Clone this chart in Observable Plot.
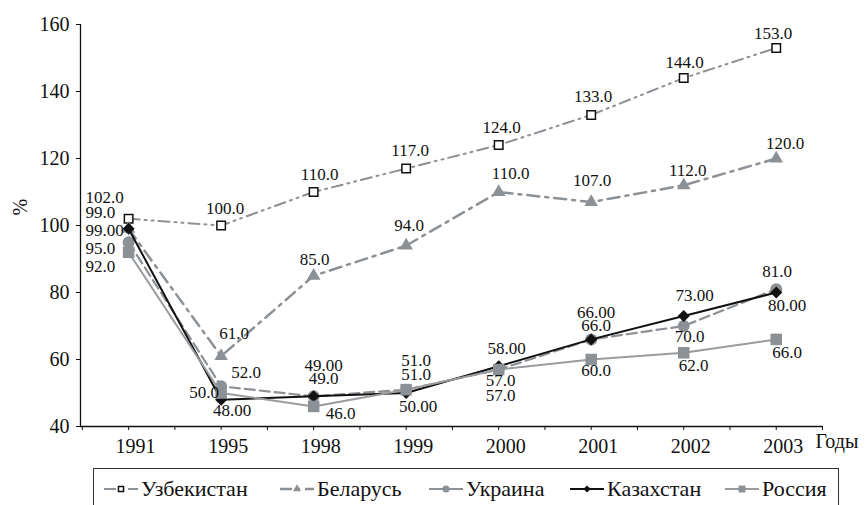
<!DOCTYPE html>
<html>
<head>
<meta charset="utf-8">
<script src="https://cdn.jsdelivr.net/npm/d3@7"></script>
<script src="https://cdn.jsdelivr.net/npm/@observablehq/plot@0.6"></script>
<style>
  html, body { margin: 0; padding: 0; background: #fff; overflow: hidden; }
  #wrap { width: 866px; height: 505px; position: relative; font-family: 'Liberation Serif'; }
  #legend { position: absolute; left: 93px; top: 468px; width: 746px; height: 60px; border: 1px solid #333; box-sizing: border-box; }
  .item { position: absolute; top: 7px; display: flex; align-items: center; font-size: 22px; color: #111; white-space: nowrap; font-family: 'Liberation Serif'; }
  .item svg { margin-right: 2px; }
  #chart svg text { font-family: 'Liberation Serif' !important; }
</style>
</head>
<body>
<div id="wrap"><div id="chart"></div><div id="legend"></div></div>
<script>
// ---- data ----
const years = ["1991", "1995", "1998", "1999", "2000", "2001", "2002", "2003"];
const uzbekistan = [102, 100, 110, 117, 124, 133, 144, 153];
const belarus    = [99, 61, 85, 94, 110, 107, 112, 120];
const ukraine    = [95, 52, 49, 51, 57, 66, 70, 81];
const kazakhstan = [99, 48, 49, 50, 58, 66, 73, 80];
const russia     = [92, 50, 46, 51, 57, 60, 62, 66];
const seriesNames = ["Узбекистан", "Беларусь", "Украина", "Казахстан", "Россия"];
const yTicks = [40, 60, 80, 100, 120, 140, 160];

// ---- label nudges (pixels) ----
const nudges = {
  "Узбекистан": [[-43,-21],[4,-17],[6,-17],[4,-18],[3,-18],[2,-18],[1,-16],[-3,-14]],
  "Беларусь":   [[-43,-16],[13,-23],[1,-16],[3,-20],[12,-18],[1,-22],[4,-15],[9,-15]],
  "Украина":    [[-43,6],[25,-14],[10,-18],[10,-29],[2,11],[5,-14],[6,11],[1,-18]],
  "Казахстан":  [[-43,2],[11,11],[10,-31],[12,14],[8,-18],[5,-27],[11,-20],[11,13]],
  "Россия":     [[-43,14],[-17,0],[27,7],[10,-15],[2,26],[5,11],[10,13],[11,13]]
};

const FONT = "Liberation Serif";
const GRAY = "#8c9196";
const diamond = { draw(ctx, size) { const s = Math.sqrt(size / 2); ctx.moveTo(0, -s); ctx.lineTo(s, 0); ctx.lineTo(0, s); ctx.lineTo(-s, 0); ctx.closePath(); } };
const styles = {
  "Узбекистан": {values: uzbekistan, fmt: ".1f", stroke: GRAY, width: 2, dash: "11,5,2,5,2,5", symbol: d3.symbolSquare, r: 4.8, fill: "white", mstroke: "#111", mw: 1.5, legDash: "12,5,2,5"},
  "Беларусь":   {values: belarus, fmt: ".1f", stroke: GRAY, width: 2.5, dash: "12,6,3,6", symbol: d3.symbolTriangle, r: 5, fill: GRAY, mstroke: "none", mw: 0, legDash: "12,5,3,5"},
  "Украина":    {values: ukraine, fmt: ".1f", stroke: GRAY, width: 2.2, dash: "10,5", symbol: d3.symbolCircle, r: 6, fill: GRAY, mstroke: "none", mw: 0, legDash: null},
  "Казахстан":  {values: kazakhstan, fmt: ".2f", stroke: "#111", width: 2, dash: null, symbol: diamond, r: 4.8, fill: "#111", mstroke: "none", mw: 0, legDash: null},
  "Россия":     {values: russia, fmt: ".1f", stroke: "#999b9e", width: 2, dash: null, symbol: d3.symbolSquare, r: 6.5, fill: GRAY, mstroke: "none", mw: 0, legDash: null}
};

const marks = [
  Plot.ruleY([40], {stroke: "#111", strokeWidth: 1.3}),
  Plot.ruleX([-0.52], {stroke: "#111", strokeWidth: 1.3}),
  Plot.axisY({ticks: yTicks, tickSize: 4, tickPadding: 7, fontSize: 20, fontFamily: FONT, stroke: "#111", fill: "#111", label: null}),
  Plot.axisX({ticks: d3.range(-0.5, 7.51, 0.5), tickSize: 4, tickFormat: () => "", label: null, stroke: "#111"}),
  Plot.axisX({ticks: d3.range(0, 8), tickSize: 0, tickPadding: 12, dx: 7, fontSize: 20, fontFamily: FONT, fill: "#111", tickFormat: d => years[d], label: null}),
  Plot.text(["Годы"], {frameAnchor: "bottom-right", dx: -7, dy: 21, textAnchor: "start", fontSize: 20, fontFamily: FONT, fill: "#111"}),
  Plot.text(["%"], {frameAnchor: "left", dx: -60, dy: -10, rotate: -90, fontSize: 20, fontFamily: FONT, fill: "#111"})
];

for (const name of seriesNames) {
  const s = styles[name];
  const rows = s.values.map((v, i) => ({i, v}));
  marks.push(Plot.line(rows, {x: "i", y: "v", stroke: s.stroke, strokeWidth: s.width, strokeDasharray: s.dash || undefined}));
  marks.push(Plot.dot(rows, {x: "i", y: "v", symbol: s.symbol, r: s.r, fill: s.fill, stroke: s.mstroke, strokeWidth: s.mw}));
}
for (const name of seriesNames) {
  const s = styles[name];
  const f = d3.format(s.fmt);
  s.values.forEach((v, i) => {
    const [dx, dy] = nudges[name][i];
    marks.push(Plot.text([{i, v}], {x: "i", y: "v", text: d => f(d.v), dx, dy,
      textAnchor: i === 0 ? "start" : "middle", fontSize: 17, fontFamily: FONT, fill: "#111"}));
  });
}

const chart = Plot.plot({
  width: 866, height: 460,
  marginLeft: 80, marginRight: 44, marginTop: 24, marginBottom: 34,
  style: "font-family: 'Liberation Serif'; background: white; color: #111;",
  x: {type: "linear", domain: [-0.52, 7.5]},
  y: {domain: [40, 160]},
  marks
});
document.getElementById("chart").appendChild(chart);

// ---- legend ----
const legendPos = {"Узбекистан": 9, "Беларусь": 185, "Украина": 334, "Казахстан": 475, "Россия": 630};
const legend = document.getElementById("legend");
const ns = "http://www.w3.org/2000/svg";
for (const name of seriesNames) {
  const s = styles[name];
  const item = document.createElement("div");
  item.className = "item";
  item.style.left = legendPos[name] + "px";
  const svg = document.createElementNS(ns, "svg");
  svg.setAttribute("width", 36); svg.setAttribute("height", 14);
  const ln = document.createElementNS(ns, "line");
  ln.setAttribute("x1", 1); ln.setAttribute("x2", 35); ln.setAttribute("y1", 7); ln.setAttribute("y2", 7);
  ln.setAttribute("stroke", s.stroke); ln.setAttribute("stroke-width", s.width);
  if (s.legDash) ln.setAttribute("stroke-dasharray", s.legDash);
  svg.appendChild(ln);
  const p = document.createElementNS(ns, "path");
  const rr = s.r * 0.6;
  p.setAttribute("d", d3.symbol(s.symbol, Math.PI * rr * rr)());
  p.setAttribute("transform", "translate(18,7)");
  p.setAttribute("fill", s.fill); p.setAttribute("stroke", s.mstroke); p.setAttribute("stroke-width", s.mw);
  svg.appendChild(p);
  item.appendChild(svg);
  const t = document.createElement("span");
  t.textContent = name;
  item.appendChild(t);
  legend.appendChild(item);
}
</script>
</body>
</html>
